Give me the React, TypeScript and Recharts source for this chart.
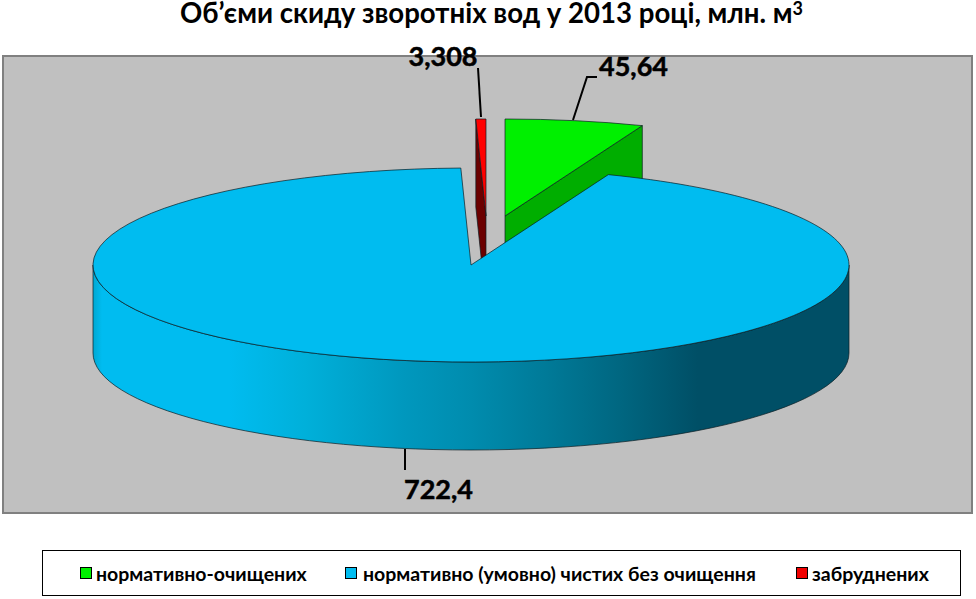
import { Legend, Pie, PieChart } from 'recharts';

const FONT = 'Lato, "Noto Sans", sans-serif';

// legend order
const categories = ['нормативно-очищених', 'нормативно (умовно) чистих без очищення', 'забруднених'];
const values = [45.64, 722.4, 3.308];
const valueLabels = ['45,64', '722,4', '3,308'];
const topColors = ['#00F000', '#00BCF0', '#FF0000'];
const faceColors = ['#00AE00', '#004F66', '#6B0000'];
const legendSwatches = ['#00F000', '#00BCF0', '#F00000'];

// back slices first, so the big slice can cover their feet
const drawOrder = [2, 0, 1];

const total = values.reduce((a, b) => a + b, 0);
const pieData = drawOrder.map((i) => ({
    name: categories[i],
    value: values[i],
    label: valueLabels[i],
    top: topColors[i],
    face: faceColors[i],
    source: i,
}));

const CX = 471;
const CY = 265;
const RX = 378;
const RY = 97;
const DEPTH = 88;

// how far each slice is pulled out of the pie, in px
const explode: Record<number, [number, number]> = { 0: [34, -49], 1: [0, 0], 2: [15, -49] };

const labelPos: Record<number, { x: number; y: number; line: string }> = {
    0: { x: 633.5, y: 76, line: '573,120 587,77 597,77' },
    1: { x: 438.5, y: 499, line: '405,449 405,470' },
    2: { x: 443, y: 66, line: '481,117 478,68' },
};

const wallStops = [
    [0, '#00A8D2'],
    [0.012, '#00BCF0'],
    [0.18, '#00BCF0'],
    [0.28, '#00B0DA'],
    [0.41, '#0098BE'],
    [0.5, '#008CAE'],
    [0.6, '#007A98'],
    [0.7, '#006680'],
    [0.8, '#004F66'],
    [1, '#004F66'],
];

const rad = (a: number) => (a * Math.PI) / 180;

function Slice3D(props: any) {
    const { startAngle, endAngle, payload } = props;
    const src = payload?.source ?? props.source;
    const [dx, dy] = explode[src];
    const ox = CX + dx;
    const oy = CY + dy;
    const pt = (a: number, drop = 0) => [ox + RX * Math.cos(rad(a)), oy - RY * Math.sin(rad(a)) + drop];
    const top = payload?.top ?? props.top;
    const face = payload?.face ?? props.face;
    const sweep = startAngle - endAngle;
    const edge = { stroke: '#0c1c22', strokeWidth: 0.7, strokeLinejoin: 'round' as const };

    const [sx, sy] = pt(startAngle);
    const [ex, ey] = pt(endAngle);
    const large = sweep > 180 ? 1 : 0;
    const topPath = `M${ox},${oy} L${sx},${sy} A${RX},${RY} 0 ${large} 1 ${ex},${ey} Z`;

    // rim is only seen on the front half of the ellipse
    let wall = null;
    const from = Math.min(startAngle, 0);
    const to = Math.max(endAngle, -180);
    if (from > to) {
        const [ax, ay] = pt(from);
        const [bx, by] = pt(to);
        wall = (
            <path
                d={`M${ax},${ay} A${RX},${RY} 0 0 1 ${bx},${by} L${bx},${by + DEPTH} A${RX},${RY} 0 0 0 ${ax},${ay + DEPTH} Z`}
                fill="url(#wallShade)"
                {...edge}
            />
        );
    }

    const face3d = (a: number) => {
        const [px, py] = pt(a);
        return (
            <path
                d={`M${ox},${oy} L${px},${py} L${px},${py + DEPTH} L${ox},${oy + DEPTH} Z`}
                fill={face}
                {...edge}
            />
        );
    };

    return (
        <g>
            {wall}
            {Math.cos(rad(startAngle)) < -1e-6 && face3d(startAngle)}
            {Math.cos(rad(endAngle)) > 1e-6 && face3d(endAngle)}
            <path d={topPath} fill={top} {...edge} />
        </g>
    );
}

function SliceLabel(props: any) {
    const src = props.payload?.source ?? props.source;
    const pos = labelPos[src];
    return (
        <g>
            <polyline points={pos.line} fill="none" stroke="#000" strokeWidth={2} />
            <text x={pos.x} y={pos.y} textAnchor="middle" fontFamily={FONT} fontWeight={700} fontSize={27} fill="#000" stroke="#000" strokeWidth={0.5}>
                {valueLabels[src]}
            </text>
        </g>
    );
}

const legendX = [80, 345, 796];

function ChartLegend() {
    return (
        <div style={{ position: 'relative', width: 917, height: 44, border: '1.5px solid #000', fontFamily: FONT, fontWeight: 700, fontSize: 19.5, color: '#000' }}>
            {categories.map((name, i) => (
                <div key={name} style={{ position: 'absolute', left: legendX[i] - 43, top: 0, height: 44, display: 'flex', alignItems: 'center', whiteSpace: 'nowrap' }}>
                    <span style={{ display: 'inline-block', width: 10, height: 10, background: legendSwatches[i], border: '1.5px solid #000', marginRight: i === 1 ? 6 : 4 }} />
                    {name}
                </div>
            ))}
        </div>
    );
}

export default function App() {
    return (
        <div style={{ position: 'absolute', left: 0, top: 0, width: 976, height: 599, background: '#fff', overflow: 'hidden' }}>
            <div style={{ position: 'absolute', left: 2, top: 55, width: 967, height: 455, background: '#C0C0C0', border: '2px solid #808080' }} />
            <div style={{ position: 'absolute', left: 7, top: 0, width: 969, textAlign: 'center', fontFamily: FONT, fontWeight: 700, fontSize: 27.6, lineHeight: '26px', color: '#000', whiteSpace: 'nowrap' }}>
                Об’єми скиду зворотніх вод у 2013 році, млн. м<span style={{ fontSize: 18, verticalAlign: 8, lineHeight: '10px' }}>3</span>
            </div>
            <div style={{ position: 'absolute', left: 0, top: 0 }}>
                <PieChart width={976} height={599} margin={{ top: 0, right: 0, bottom: 0, left: 0 }}>
                    <defs>
                        <linearGradient id="wallShade" gradientUnits="userSpaceOnUse" x1={CX - RX} y1={0} x2={CX + RX} y2={0}>
                            {wallStops.map(([o, c]) => (
                                <stop key={o as number} offset={o as number} stopColor={c as string} />
                            ))}
                        </linearGradient>
                    </defs>
                    <Pie
                        data={pieData}
                        dataKey="value"
                        nameKey="name"
                        cx={CX}
                        cy={CY}
                        outerRadius={RX}
                        startAngle={90 + (360 * values[2]) / total}
                        endAngle={90 + (360 * values[2]) / total - 360}
                        shape={Slice3D}
                        inactiveShape={Slice3D}
                        label={SliceLabel}
                        labelLine={false}
                        isAnimationActive={false}
                    />
                    <Legend content={<ChartLegend />} wrapperStyle={{ left: 42, top: 550, width: 920, height: 47, bottom: 'auto' }} />
                </PieChart>
            </div>
        </div>
    );
}
